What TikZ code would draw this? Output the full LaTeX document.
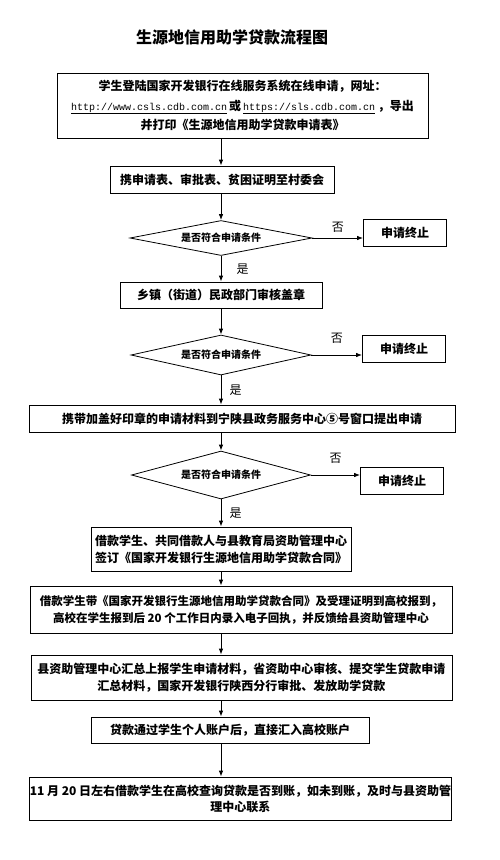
\documentclass[tikz,border=0pt]{standalone}
\usepackage{fontspec}
\setmainfont{Noto Sans CJK SC}
\newfontfamily\urlfont{Liberation Mono}
\usetikzlibrary{shapes.geometric, arrows.meta}
\newcommand{\weburl}[1]{{\urlfont\mdseries\fontsize{10}{12}\selectfont\underline{#1}}}

\begin{document}
\begin{tikzpicture}[x=1pt, y=-1pt, line width=0.8pt, >={Latex[length=6pt,width=4.5pt]},
    box/.style={draw, align=center, inner sep=0pt, font=\bfseries\fontsize{12}{17}\selectfont},
    dia/.style={draw, diamond, aspect=5, inner sep=0pt, font=\bfseries\fontsize{10}{12}\selectfont},
    stop/.style={box, minimum width=83pt, minimum height=27pt},
    lbl/.style={font=\fontsize{12}{14}\selectfont}]
    \useasboundingbox (0,0) rectangle (500,860);

    % Title
    \node[font=\bfseries\fontsize{16}{18}\selectfont] (title) at (232,37) {生源地信用助学贷款流程图};

    % Online application
    \node[box, minimum width=371pt, minimum height=65pt, font=\bfseries\fontsize{12}{19.5}\selectfont] (apply) at (242.5,105.5)
        {学生登陆国家开发银行在线服务系统在线申请，网址：\\
         \weburl{http://www.csls.cdb.com.cn}\,或\,\weburl{https://sls.cdb.com.cn}\ ，导出\\
         并打印《生源地信用助学贷款申请表》};
    \node[box, minimum width=224pt, minimum height=27pt] (carry) at (222,179.5) {携申请表、审批表、贫困证明至村委会};

    % First check
    \node[dia, minimum width=182pt, minimum height=35pt] (check1) at (221,238) {是否符合申请条件};
    \node[stop] (stop1) at (405,233) {申请终止};
    \node[box, minimum width=202pt, minimum height=26pt] (town) at (221,295) {乡镇（街道）民政部门审核盖章};

    % Second check
    \node[dia, minimum width=180pt, minimum height=40pt] (check2) at (221,355) {是否符合申请条件};
    \node[stop] (stop2) at (404,349) {申请终止};
    \node[box, minimum width=426pt, minimum height=27pt] (submit) at (242,418.5) {携带加盖好印章的申请材料到宁陕县政务服务中心⑤号窗口提出申请};

    % Third check
    \node[dia, minimum width=179pt, minimum height=48pt] (check3) at (221,475) {是否符合申请条件};
    \node[stop] (stop3) at (402,481) {申请终止};

    % Contract and payment
    \node[box, minimum width=260pt, minimum height=44pt] (sign) at (221,549)
        {借款学生、共同借款人与县教育局资助管理中心\\签订《国家开发银行生源地信用助学贷款合同》};
    \node[box, minimum width=422pt, minimum height=47pt, font=\bfseries\fontsize{11.5}{17}\selectfont] (report) at (241,609.5)
        {借款学生带《国家开发银行生源地信用助学贷款合同》及受理证明到高校报到，\\高校在学生报到后 20 个工作日内录入电子回执，并反馈给县资助管理中心};
    \node[box, minimum width=421pt, minimum height=45pt] (grant) at (241.5,677.5)
        {县资助管理中心汇总上报学生申请材料，省资助中心审核、提交学生贷款申请\\汇总材料，国家开发银行陕西分行审批、发放助学贷款};
    \node[box, minimum width=278pt, minimum height=26pt] (pay) at (230,730) {贷款通过学生个人账户后，直接汇入高校账户};
    \node[box, minimum width=419pt, minimum height=43pt, font=\bfseries\fontsize{12}{16}\selectfont] (query) at (240.5,798.5)
        {11 月 20 日左右借款学生在高校查询贷款是否到账，如未到账，及时与县资助管\\理中心联系};

    % Main flow
    \draw[->] (apply.south -| check1) -- (carry.north -| check1);
    \draw[->] (carry.south -| check1) -- (check1.north);
    \draw[->] (check1.south) -- (town.north -| check1) node[lbl, midway, right=12pt] {是};
    \draw[->] (town.south -| check1) -- (check2.north);
    \draw[->] (check2.south) -- (submit.north -| check2) node[lbl, midway, right=5pt] {是};
    \draw[->] (submit.south -| check2) -- (check3.north);
    \draw[->] (check3.south) -- (sign.north -| check3) node[lbl, midway, right=5pt] {是};
    \draw[->] (sign.south -| check3) -- (report.north -| check3);
    \draw[->] (report.south -| check3) -- (grant.north -| check3);
    \draw[->] (grant.south -| check3) -- (pay.north -| check3);
    \draw[->] (pay.south -| check3) -- (query.north -| check3);

    % Rejections
    \draw[->] (check1.east) -- (check1.east -| stop1.west) node[lbl, midway, above=2pt] {否};
    \draw[->] (check2.east) -- (check2.east -| stop2.west) node[lbl, midway, above=8pt] {否};
    \draw[->] (check3.east) -- (check3.east -| stop3.west) node[lbl, midway, above=8pt] {否};
\end{tikzpicture}
\end{document}
